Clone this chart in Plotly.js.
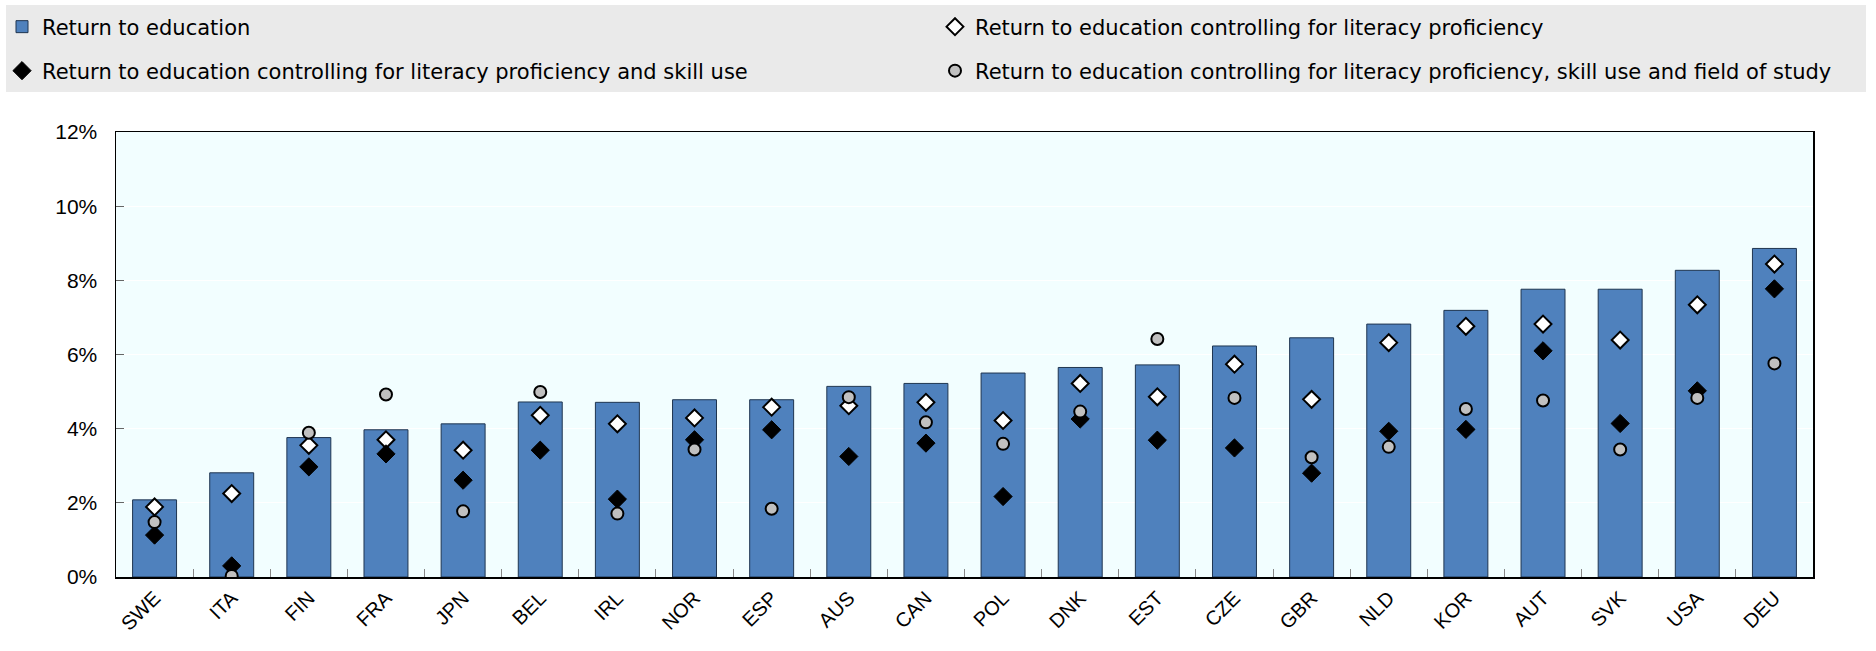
<!DOCTYPE html>
<html><head><meta charset="utf-8">
<script src="https://cdn.plot.ly/plotly-3.0.1.min.js"></script>
<style>html,body{margin:0;padding:0;background:#fff}#chart{width:1876px;height:651px}
</style>
</head><body><div id="chart"></div>
<script>
const countries = ['SWE','ITA','FIN','FRA','JPN','BEL','IRL','NOR','ESP','AUS','CAN','POL','DNK','EST','CZE','GBR','NLD','KOR','AUT','SVK','USA','DEU'];
const returnEdu = [2.08,2.81,3.76,3.97,4.13,4.72,4.71,4.78,4.78,5.14,5.22,5.50,5.65,5.72,6.23,6.45,6.82,7.19,7.76,7.76,8.27,8.86];
const ctrlLit = [1.89,2.25,3.55,3.70,3.42,4.36,4.13,4.29,4.58,4.62,4.71,4.22,5.22,4.86,5.74,4.79,6.32,6.76,6.82,6.39,7.34,8.44];
const ctrlLitSkill = [1.13,0.30,2.97,3.32,2.61,3.42,2.10,3.70,3.97,3.25,3.61,2.17,4.26,3.69,3.48,2.80,3.93,3.98,6.10,4.14,5.02,7.77];
const ctrlLitSkillField = [1.48,0.03,3.89,4.92,1.77,4.99,1.71,3.44,1.84,4.85,4.17,3.59,4.46,6.42,4.83,3.23,3.51,4.53,4.76,3.44,4.83,5.76];

const names = ['Return to education',
  'Return to education controlling for literacy proficiency',
  'Return to education controlling for literacy proficiency and skill use',
  'Return to education controlling for literacy proficiency, skill use and field of study'];

const traces = [
  {type:'bar', x:countries, y:returnEdu, name:names[0], legend:'legend', width:0.57,
   marker:{color:'#4F81BD', line:{color:'#1F3550', width:1}}},
  {type:'scatter', mode:'markers', x:countries, y:ctrlLit, name:names[1], legend:'legend2',
   marker:{symbol:'diamond', size:13, color:'#FFFFFF', line:{color:'#000', width:2}}},
  {type:'scatter', mode:'markers', x:countries, y:ctrlLitSkill, name:names[2], legend:'legend3',
   marker:{symbol:'diamond', size:14, color:'#000000', line:{color:'#000', width:1}}},
  {type:'scatter', mode:'markers', x:countries, y:ctrlLitSkillField, name:names[3], legend:'legend4',
   marker:{symbol:'circle', size:12, color:'#C0C0C0', line:{color:'#000', width:2}}}
];

const L = 116, R = 1813, T = 132, B = 577;
const PW = R - L, PH = B - T;
const px2x = p => (p - L) / PW;
const py2y = p => (B - p) / PH;
const legFont = {family:'DejaVu Sans, Liberation Sans, Arial, sans-serif', size:21, color:'#000'};
function leg(xp, yp){ return {x:px2x(xp), y:py2y(yp), xanchor:'left', yanchor:'middle', xref:'paper', yref:'paper',
  bgcolor:'rgba(0,0,0,0)', borderwidth:0, font:legFont, orientation:'h', entrywidth:880, entrywidthmode:'pixels',
  itemclick:false, itemdoubleclick:false}; }

const layout = {
  width:1876, height:651,
  margin:{l:L, r:1876-R, t:T, b:651-B, autoexpand:false},
  paper_bgcolor:'#FFFFFF', plot_bgcolor:'#F2FEFF',
  font:{family:'Liberation Sans, Arial, sans-serif', color:'#000'},
  showlegend:true,
  hovermode:false,
  legend: leg(2, 27),
  legend2: leg(935, 27),
  legend3: leg(2, 71),
  legend4: leg(935, 71),
  xaxis:{type:'category', tickson:'boundaries', ticks:'inside', ticklen:8, tickcolor:'#888',
    tickangle:-45, tickfont:{size:20, family:'Liberation Sans, Arial, sans-serif'},
    showline:true, linecolor:'#000', linewidth:1.5, mirror:true, showgrid:false, zeroline:false,
    range:[-0.5, countries.length-0.5]},
  yaxis:{range:[0,12], dtick:2, ticksuffix:'%', ticks:'inside', ticklen:8, tickcolor:'#666',
    tickfont:{size:21, family:'Liberation Sans, Arial, sans-serif'}, ticklabelstandoff:13,
    showline:true, linecolor:'#000', linewidth:1.5, mirror:true, gridcolor:'#FFFFFF', gridwidth:1, zeroline:false},
  shapes:[{type:'rect', xref:'paper', yref:'paper', x0:px2x(6), x1:px2x(1866), y0:py2y(92), y1:py2y(5),
    fillcolor:'#EAEAEA', line:{width:0}, layer:'below'}]
};

Plotly.newPlot('chart', traces, layout, {displayModeBar:false, staticPlot:true});
</script>
</body></html>
